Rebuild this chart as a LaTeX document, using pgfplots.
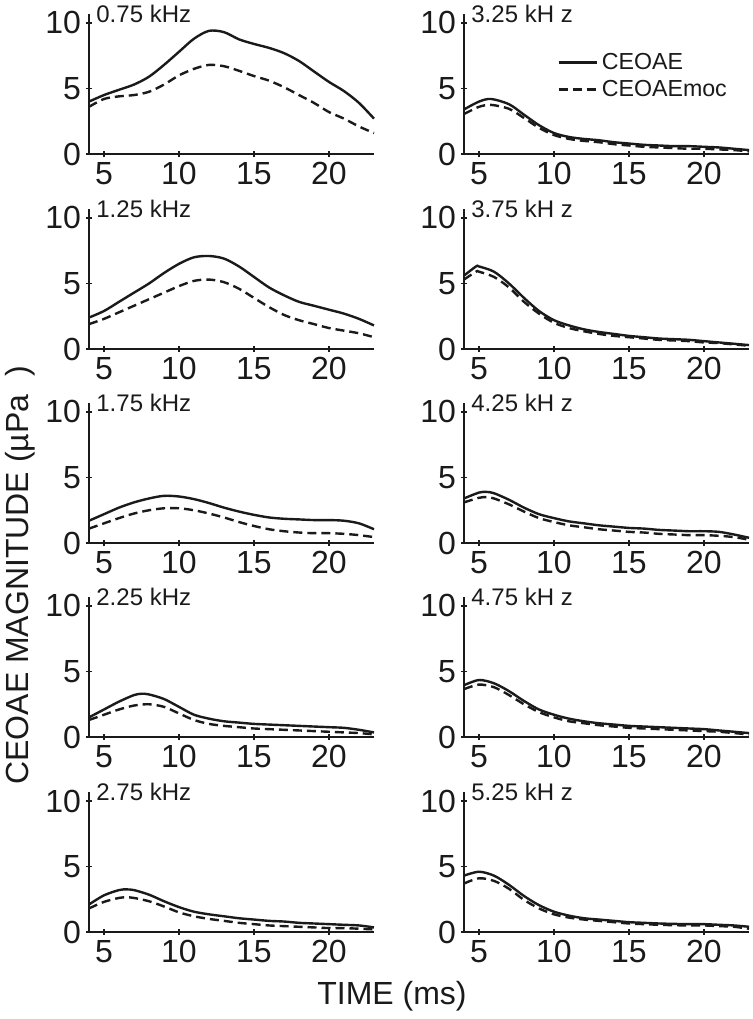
\documentclass[border=0pt]{standalone}
\usepackage{pgfplots}
\pgfplotsset{compat=1.18}
\usepackage{fontspec}
\setmainfont{Liberation Sans}
\definecolor{ink}{HTML}{1A1A1A}
\pgfplotsset{
  panel/.style={
    width=142.5pt, height=70.1pt, scale only axis,
    xmin=4, xmax=23, ymin=0, ymax=10.7,
    axis x line*=bottom, axis y line*=left,
    xtick={5,10,15,20}, ytick={0,5,10},
    tick align=center, major tick length=3pt,
    axis line style={line width=1.1pt, color=ink},
    tick style={line width=0.8pt, color=ink},
    ticklabel style={font=\fontsize{16}{17}\selectfont, text=ink},
    /pgf/number format/assume math mode=true,
    xticklabel style={yshift=1pt},
    yticklabel style={xshift=1pt},
    anchor=origin, clip=false,
  },
  sol/.style={line width=1.2pt, color=ink, smooth, tension=0.5},
  das/.style={line width=1.2pt, color=ink, smooth, tension=0.5, dash pattern=on 4.5pt off 2.5pt},
}
\newcommand{\plabel}[1]{\node[anchor=base west, font=\fontsize{12}{13}\selectfont, text=ink, inner sep=0pt] at (axis cs:4,10) {\hspace{3.5pt}#1};}
\begin{document}
\begin{tikzpicture}
\useasboundingbox (0,0) rectangle (376pt,-509.5pt);
% ---------- left column ----------
\begin{axis}[panel, at={(44.5pt,-77pt)}]
\addplot[sol] coordinates {(4,4.0)(5,4.5)(6,4.9)(7,5.3)(8,5.9)(9,6.8)(10,7.8)(11,8.8)(12,9.4)(13,9.3)(14,8.75)(15,8.4)(16,8.1)(17,7.7)(18,7.1)(19,6.3)(20,5.5)(21,4.8)(22,3.9)(23,2.7)};
\addplot[das] coordinates {(4,3.6)(5,4.2)(6,4.4)(7,4.5)(8,4.75)(9,5.3)(10,6.0)(11,6.5)(12,6.8)(13,6.7)(14,6.35)(15,5.95)(16,5.6)(17,5.1)(18,4.5)(19,3.9)(20,3.2)(21,2.7)(22,2.1)(23,1.6)};
\plabel{0.75 kHz}
\end{axis}
\begin{axis}[panel, at={(44.5pt,-174.5pt)}]
\addplot[sol] coordinates {(4,2.4)(5,2.9)(6,3.6)(7,4.3)(8,5.0)(9,5.8)(10,6.5)(11,7.0)(12,7.1)(13,6.9)(14,6.3)(15,5.5)(16,4.7)(17,4.1)(18,3.6)(19,3.3)(20,3.0)(21,2.7)(22,2.3)(23,1.8)};
\addplot[das] coordinates {(4,1.9)(5,2.3)(6,2.8)(7,3.3)(8,3.8)(9,4.3)(10,4.8)(11,5.2)(12,5.3)(13,5.1)(14,4.6)(15,3.9)(16,3.2)(17,2.6)(18,2.2)(19,1.9)(20,1.6)(21,1.4)(22,1.2)(23,0.9)};
\plabel{1.25 kHz}
\end{axis}
\begin{axis}[panel, at={(44.5pt,-271.5pt)}]
\addplot[sol] coordinates {(4,1.7)(5,2.2)(6,2.7)(7,3.1)(8,3.4)(9,3.6)(10,3.55)(11,3.35)(12,3.05)(13,2.7)(14,2.4)(15,2.15)(16,1.95)(17,1.85)(18,1.8)(19,1.75)(20,1.75)(21,1.7)(22,1.5)(23,1.05)};
\addplot[das] coordinates {(4,1.1)(5,1.5)(6,1.9)(7,2.25)(8,2.5)(9,2.65)(10,2.65)(11,2.5)(12,2.25)(13,1.95)(14,1.6)(15,1.3)(16,1.05)(17,0.9)(18,0.8)(19,0.75)(20,0.75)(21,0.7)(22,0.6)(23,0.45)};
\plabel{1.75 kHz}
\end{axis}
\begin{axis}[panel, at={(44.5pt,-368.5pt)}]
\addplot[sol] coordinates {(4,1.5)(5,2.1)(6,2.7)(7,3.2)(7.5,3.3)(8,3.25)(9,2.9)(10,2.3)(11,1.7)(12,1.4)(13,1.2)(14,1.1)(15,1.0)(16,0.95)(17,0.9)(18,0.85)(19,0.8)(20,0.75)(21,0.7)(22,0.55)(23,0.35)};
\addplot[das] coordinates {(4,1.3)(5,1.7)(6,2.1)(7,2.4)(8,2.5)(9,2.3)(10,1.8)(11,1.3)(12,1.0)(13,0.85)(14,0.75)(15,0.65)(16,0.6)(17,0.55)(18,0.5)(19,0.45)(20,0.4)(21,0.35)(22,0.3)(23,0.2)};
\plabel{2.25 kHz}
\end{axis}
\begin{axis}[panel, at={(44.5pt,-466pt)}]
\addplot[sol] coordinates {(4,2.1)(5,2.8)(6,3.2)(6.5,3.25)(7,3.2)(8,2.85)(9,2.35)(10,1.9)(11,1.55)(12,1.35)(13,1.2)(14,1.05)(15,0.95)(16,0.85)(17,0.8)(18,0.7)(19,0.65)(20,0.6)(21,0.55)(22,0.5)(23,0.35)};
\addplot[das] coordinates {(4,1.8)(5,2.3)(6,2.6)(6.5,2.65)(7,2.6)(8,2.35)(9,1.95)(10,1.5)(11,1.2)(12,1.0)(13,0.85)(14,0.7)(15,0.6)(16,0.5)(17,0.45)(18,0.4)(19,0.35)(20,0.3)(21,0.3)(22,0.25)(23,0.2)};
\plabel{2.75 kHz}
\end{axis}
% ---------- right column ----------
\begin{axis}[panel, at={(232pt,-77pt)},
  legend style={at={(axis cs:10.2,7.9)}, anchor=north west, draw=none, fill=none,
    font=\fontsize{11.6}{13}\selectfont, text=ink, row sep=2pt, inner sep=0pt,
    nodes={inner xsep=2pt, inner ysep=1pt}},
  legend cell align=left,
  legend image code/.code={\draw[#1, smooth=false] (0pt,0pt) -- (19pt,0pt);}]
\addplot[sol] coordinates {(4,3.4)(5,4.0)(5.8,4.2)(7,3.8)(8,3.0)(9,2.2)(10,1.6)(11,1.3)(12,1.15)(13,1.05)(14,0.9)(15,0.8)(16,0.7)(17,0.65)(18,0.6)(19,0.6)(20,0.55)(21,0.5)(22,0.4)(23,0.3)};
\addlegendentry{CEOAE}
\addplot[das] coordinates {(4,3.05)(5,3.6)(5.8,3.75)(7,3.45)(8,2.75)(9,2.0)(10,1.45)(11,1.15)(12,1.0)(13,0.9)(14,0.75)(15,0.65)(16,0.55)(17,0.5)(18,0.45)(19,0.4)(20,0.4)(21,0.35)(22,0.3)(23,0.2)};
\addlegendentry{CEOAEmoc}
\plabel{3.25 kH z}
\end{axis}
\begin{axis}[panel, at={(232pt,-174.5pt)}]
\addplot[sol] coordinates {(4,5.6)(4.8,6.3)(5,6.3)(6,5.9)(7,5.0)(8,3.9)(9,2.9)(10,2.2)(11,1.8)(12,1.5)(13,1.3)(14,1.15)(15,1.0)(16,0.9)(17,0.8)(18,0.75)(19,0.7)(20,0.6)(21,0.5)(22,0.4)(23,0.3)};
\addplot[das] coordinates {(4,5.3)(4.8,5.9)(5,5.9)(6,5.5)(7,4.7)(8,3.6)(9,2.7)(10,2.0)(11,1.6)(12,1.35)(13,1.15)(14,1.0)(15,0.9)(16,0.8)(17,0.7)(18,0.65)(19,0.6)(20,0.5)(21,0.45)(22,0.35)(23,0.25)};
\plabel{3.75 kH z}
\end{axis}
\begin{axis}[panel, at={(232pt,-271.5pt)}]
\addplot[sol] coordinates {(4,3.4)(5,3.85)(5.5,3.9)(6,3.8)(7,3.3)(8,2.7)(9,2.2)(10,1.9)(11,1.65)(12,1.5)(13,1.35)(14,1.25)(15,1.15)(16,1.1)(17,1.0)(18,0.95)(19,0.9)(20,0.9)(21,0.85)(22,0.65)(23,0.4)};
\addplot[das] coordinates {(4,3.1)(5,3.45)(5.5,3.5)(6,3.4)(7,2.95)(8,2.4)(9,1.9)(10,1.6)(11,1.35)(12,1.2)(13,1.05)(14,0.95)(15,0.85)(16,0.8)(17,0.7)(18,0.65)(19,0.6)(20,0.6)(21,0.55)(22,0.45)(23,0.25)};
\plabel{4.25 kH z}
\end{axis}
\begin{axis}[panel, at={(232pt,-368.5pt)}]
\addplot[sol] coordinates {(4,3.95)(5,4.35)(6,4.1)(7,3.5)(8,2.75)(9,2.1)(10,1.7)(11,1.4)(12,1.2)(13,1.05)(14,0.95)(15,0.85)(16,0.8)(17,0.75)(18,0.7)(19,0.65)(20,0.6)(21,0.5)(22,0.4)(23,0.3)};
\addplot[das] coordinates {(4,3.65)(5,4.0)(6,3.8)(7,3.2)(8,2.5)(9,1.9)(10,1.5)(11,1.2)(12,1.05)(13,0.9)(14,0.8)(15,0.7)(16,0.65)(17,0.6)(18,0.55)(19,0.5)(20,0.45)(21,0.4)(22,0.3)(23,0.2)};
\plabel{4.75 kH z}
\end{axis}
\begin{axis}[panel, at={(232pt,-466pt)}]
\addplot[sol] coordinates {(4,4.3)(5,4.6)(6,4.3)(7,3.6)(8,2.75)(9,2.05)(10,1.55)(11,1.25)(12,1.05)(13,0.95)(14,0.85)(15,0.75)(16,0.7)(17,0.65)(18,0.62)(19,0.6)(20,0.6)(21,0.55)(22,0.5)(23,0.4)};
\addplot[das] coordinates {(4,3.7)(5,4.1)(6,3.9)(7,3.3)(8,2.45)(9,1.8)(10,1.35)(11,1.1)(12,0.95)(13,0.85)(14,0.75)(15,0.65)(16,0.6)(17,0.55)(18,0.52)(19,0.5)(20,0.5)(21,0.45)(22,0.4)(23,0.25)};
\plabel{5.25 kH z}
\end{axis}
% ---------- shared labels ----------
\node[font=\fontsize{16}{17}\selectfont, text=ink, rotate=90, anchor=west, inner sep=0pt] at (10pt,-392.5pt) {CEOAE MAGNITUDE (µPa\hspace{9pt})};
\node[font=\fontsize{16}{17}\selectfont, text=ink, inner sep=0pt] at (196pt,-498pt) {TIME (ms)};
\end{tikzpicture}
\end{document}
